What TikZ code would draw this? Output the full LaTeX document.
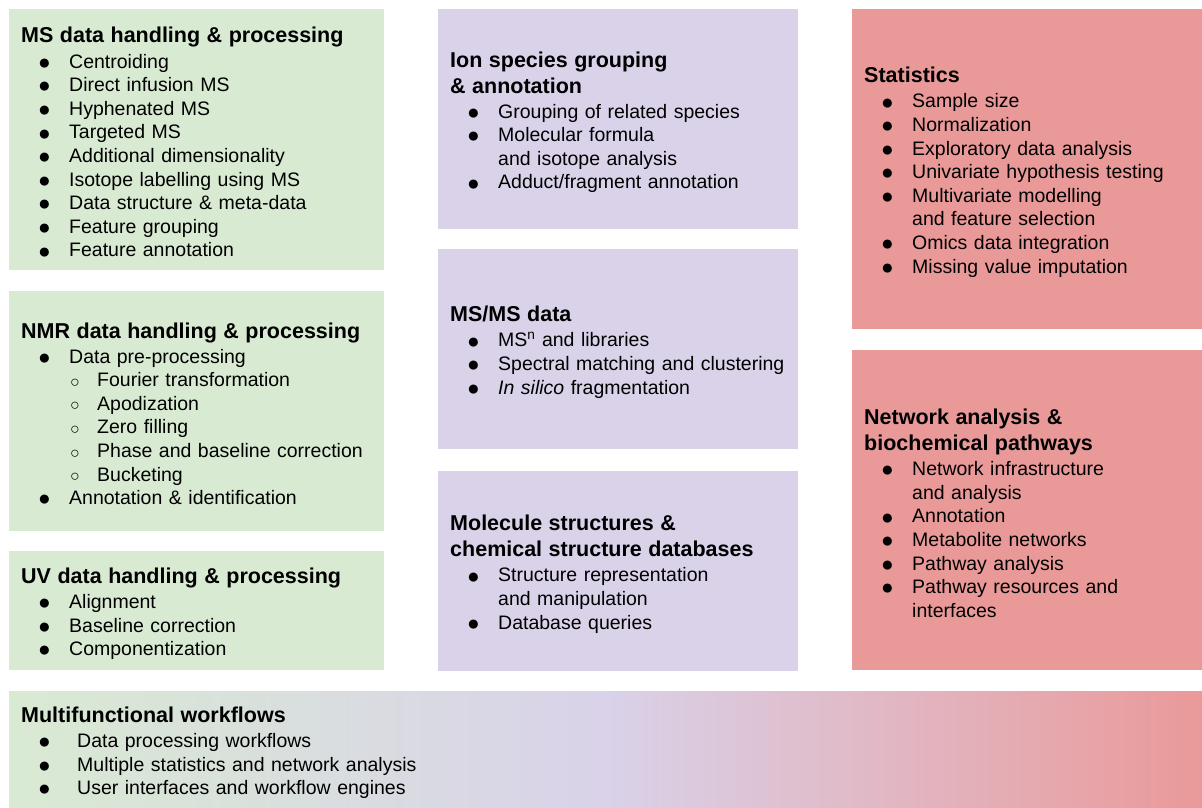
\documentclass[tikz,border=0pt]{standalone}
\usepackage{fontspec}
\setmainfont{Liberation Sans}
\usetikzlibrary{positioning}
\usetikzlibrary{calc}
\definecolor{msgreen}{HTML}{D9EAD3}
\definecolor{idpurple}{HTML}{D9D2E9}
\definecolor{statred}{HTML}{EA9999}
\setlength{\parindent}{0pt}
\hyphenpenalty=10000
\exhyphenpenalty=10000
\newcommand{\bulmark}{\raisebox{-1.2pt}{\fontsize{21pt}{21pt}\selectfont ●}}
\newcommand{\subbulmark}{\raisebox{-0.6pt}{\fontsize{16pt}{16pt}\selectfont ○}}
\newcommand{\ttl}[1]{{\fontsize{21.5pt}{26pt}\selectfont\bfseries #1\par}\vspace{1.5pt}}
\newcommand{\itm}[1]{{\noindent\hspace*{17pt}\makebox[31pt][l]{\bulmark}#1\par}}
\newcommand{\subitm}[1]{{\noindent\hspace*{49pt}\makebox[27pt][l]{\subbulmark}#1\par}}
\newcommand{\cnt}[1]{{\noindent\hspace*{48pt}#1\par}}
\newcommand{\wfitm}[1]{{\noindent\hspace*{17pt}\makebox[39pt][l]{\bulmark}#1\par}}

\begin{document}
\begin{tikzpicture}[x=1pt, y=-1pt,
    panel/.style={anchor=north west, inner sep=0pt, draw=none},
    paneltext/.style={inner sep=0pt, text width=400pt, align=left, yshift=-3pt,
        font=\fontsize{19.5pt}{23.6pt}\selectfont}]
    \useasboundingbox (0,0) rectangle (1202,808);
    % left column
    \node[panel, fill=msgreen, minimum width=375pt, minimum height=261pt] (msbox) at (9,9) {};
    \node[panel, fill=msgreen, minimum width=375pt, minimum height=240pt] (nmrbox) at (9,291) {};
    \node[panel, fill=msgreen, minimum width=375pt, minimum height=119pt] (uvbox) at (9,551) {};
    % middle column
    \node[panel, fill=idpurple, minimum width=360pt, minimum height=220pt] (ionbox) at (438,9) {};
    \node[panel, fill=idpurple, minimum width=360pt, minimum height=200pt] (msmsbox) at (438,249) {};
    \node[panel, fill=idpurple, minimum width=360pt, minimum height=200pt] (molbox) at (438,471) {};
    % right column
    \node[panel, fill=statred, minimum width=350pt, minimum height=320pt] (statbox) at (852,9) {};
    \node[panel, fill=statred, minimum width=350pt, minimum height=320pt] (netbox) at (852,350) {};
    % bottom
    \node[panel, left color=msgreen, right color=statred, middle color=idpurple,
        minimum width=1193pt, minimum height=117pt] (wfbox) at (9,691) {};

    \node[paneltext, right=12pt of msbox.west] (mstext) {%
        \ttl{MS data handling \& processing}
        \itm{Centroiding}
        \itm{Direct infusion MS}
        \itm{Hyphenated MS}
        \itm{Targeted MS}
        \itm{Additional dimensionality}
        \itm{Isotope labelling using MS}
        \itm{Data structure \& meta-data}
        \itm{Feature grouping}
        \itm{Feature annotation}};
    \node[paneltext, right=12pt of nmrbox.west] (nmrtext) {%
        \ttl{NMR data handling \& processing}
        \itm{Data pre-processing}
        \subitm{Fourier transformation}
        \subitm{Apodization}
        \subitm{Zero filling}
        \subitm{Phase and baseline correction}
        \subitm{Bucketing}
        \itm{Annotation \& identification}};
    \node[paneltext, right=12pt of uvbox.west] (uvtext) {%
        \ttl{UV data handling \& processing}
        \itm{Alignment}
        \itm{Baseline correction}
        \itm{Componentization}};

    \node[paneltext, right=12pt of ionbox.west] (iontext) {%
        \ttl{Ion species grouping\\ \& annotation}
        \itm{Grouping of related species}
        \itm{Molecular formula}
        \cnt{and isotope analysis}
        \itm{Adduct/fragment annotation}};
    \node[paneltext, right=12pt of msmsbox.west] (msmstext) {%
        \ttl{MS/MS data}
        \itm{MS\textsuperscript{n} and libraries}
        \itm{Spectral matching and clustering}
        \itm{\textit{In silico} fragmentation}};
    \node[paneltext, right=12pt of molbox.west] (moltext) {%
        \ttl{Molecule structures \&\\ chemical structure databases}
        \itm{Structure representation}
        \cnt{and manipulation}
        \itm{Database queries}};

    \node[paneltext, right=12pt of statbox.west] (stattext) {%
        \ttl{Statistics}
        \itm{Sample size}
        \itm{Normalization}
        \itm{Exploratory data analysis}
        \itm{Univariate hypothesis testing}
        \itm{Multivariate modelling}
        \cnt{and feature selection}
        \itm{Omics data integration}
        \itm{Missing value imputation}};
    \node[paneltext, right=12pt of netbox.west] (nettext) {%
        \ttl{Network analysis \&\\ biochemical pathways}
        \itm{Network infrastructure}
        \cnt{and analysis}
        \itm{Annotation}
        \itm{Metabolite networks}
        \itm{Pathway analysis}
        \itm{Pathway resources and}
        \cnt{interfaces}};

    \node[paneltext, text width=500pt, right=12pt of wfbox.west] (wftext) {%
        \ttl{Multifunctional workflows}
        \wfitm{Data processing workflows}
        \wfitm{Multiple statistics and network analysis}
        \wfitm{User interfaces and workflow engines}};
\end{tikzpicture}
\end{document}
